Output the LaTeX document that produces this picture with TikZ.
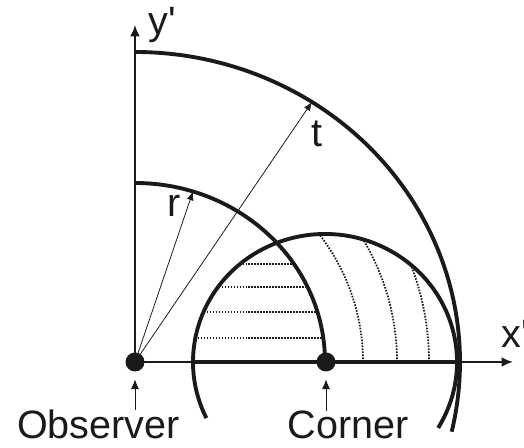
\documentclass[tikz,border=0pt]{standalone}
\usepackage{fontspec}
\newfontfamily\plainfont{Liberation Sans}
\usetikzlibrary{arrows.meta}
\definecolor{ink}{HTML}{1A1A1A}
\begin{document}
\begin{tikzpicture}[x=0.02cm,y=0.02cm,
  lbl/.style={font=\plainfont\fontsize{22.5}{27}\selectfont, inner sep=0pt, text=ink},
  thickarc/.style={draw=ink, line width=2.2pt},
  axisline/.style={draw=ink, line width=1.1pt},
  axisthick/.style={draw=ink, line width=1.9pt},
  axisarrow/.style={draw=ink, line width=1.1pt, -{Latex[length=6.5pt,width=5.5pt]}},
  thinarrow/.style={draw=ink, line width=0.45pt, -{Latex[length=5pt,width=4pt]}},
  labelarrow/.style={draw=ink, line width=0.45pt, -{Latex[length=5.5pt,width=4.5pt]}},
  dotline/.style={draw=ink, line width=1pt, dash pattern=on 0.9pt off 0.8pt},
  bigdot/.style={circle, fill=ink, inner sep=0pt, minimum size=0.38cm}
]
\useasboundingbox (-135,-86) rectangle (389,362);

% dotted hatching inside corner circle
\begin{scope}
  \clip (190,0) ellipse [x radius=132, y radius=128];
  \foreach \a/\b in {228/217, 262/249, 294/280}
    \draw[dotline] (\a,0) arc[start angle=0, end angle=90, x radius=\a, y radius=\b];
  \clip (0,0) ellipse [x radius=190, y radius=179];
  \foreach \yy in {98,75,50,24}
    \draw[dotline] (0,\yy) -- (200,\yy);
\end{scope}

% axes
\coordinate (ytip) at (0,337);
\coordinate (xa) at (57,0);
\coordinate (xb) at (325,0);
\coordinate (xtip) at (378,0);
\draw[axisarrow] (0,0) -- (ytip);
\draw[axisline] (0,0) -- (xa);
\draw[axisthick] (xa) -- (xb);
\draw[axisarrow] (xb) -- (xtip);

% arcs
\draw[thickarc] (0,179) arc[start angle=90, end angle=0, x radius=190, y radius=179];
\draw[thickarc] (0,310) arc[start angle=90, end angle=-13, x radius=325, y radius=310];
\draw[thickarc] (190,0) ++(-31:132 and 128) arc[start angle=-31, end angle=206, x radius=132, y radius=128];

% points
\node[bigdot] (O) at (0,0) {};
\node[bigdot] (C) at (191,0) {};

% radius arrows
\coordinate (rtip) at (58,170.5);
\coordinate (ttip) at (177,260);
\draw[thinarrow] (O.center) -- (rtip);
\draw[thinarrow] (O.center) -- (ttip);

% labels
\node[lbl, anchor=base] (rl) at (39.5,145) {r};
\node[lbl, anchor=base] (tl) at (182,215) {t};
\node[lbl, anchor=base west] (yl) at (13,327) {y'};
\node[lbl, anchor=base west] (xl) at (366,14) {x'};
\node[lbl, anchor=base] (obs) at (-36.5,-77) {Observer};
\node[lbl, anchor=base] (cor) at (213,-77) {Corner};

\draw[labelarrow, shorten >=0.15cm] (O |- obs.north) -- (O);
\draw[labelarrow, shorten >=0.15cm] (C |- cor.north) -- (C);
\end{tikzpicture}
\end{document}
